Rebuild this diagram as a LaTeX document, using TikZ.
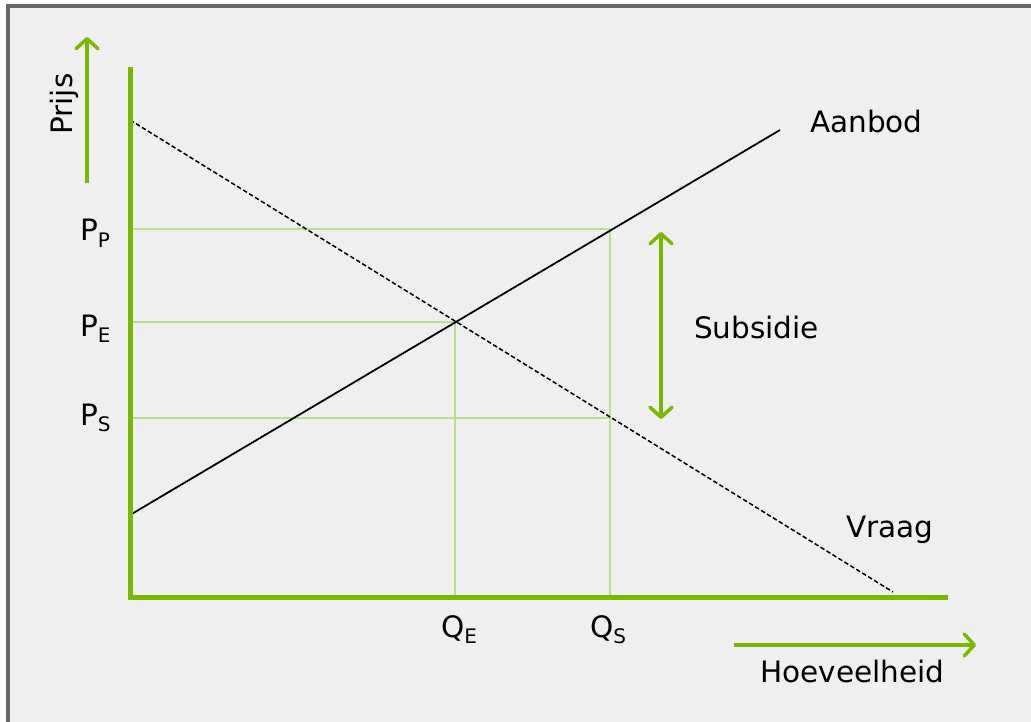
\documentclass[tikz,border=0pt]{standalone}
\usepackage{fontspec}
\setmainfont{DejaVu Sans}
\usetikzlibrary{arrows.meta}
\definecolor{axgreen}{HTML}{7AB800}
\definecolor{lgreen}{HTML}{B8DE8E}
\definecolor{bgcol}{HTML}{EFEFEF}
\definecolor{framecol}{HTML}{666666}
\newcommand\sbs[1]{\raisebox{-6.5pt}{\fontsize{20}{20}\selectfont #1}}
\begin{document}
\begin{tikzpicture}[x=1pt,y=-1pt,
  lbl/.style={font=\fontsize{29.5}{34}\selectfont, inner sep=0pt, anchor=base west},
  axisline/.style={axgreen, line width=5pt},
  guide/.style={lgreen, line width=1.6pt},
  barb/.tip={Straight Barb[length=10pt,width=22pt,line width=3.5pt,round]},
  garrow/.style={axgreen, line width=3.5pt, -barb},
  garrowboth/.style={axgreen, line width=3.5pt, barb-barb},
  supply/.style={black, line width=1.8pt},
  demand/.style={black, line width=1.5pt, dash pattern=on 4.5pt off 2.5pt}]
\useasboundingbox (0,0) rectangle (1031,722);
\fill[white] (0,0) rectangle (1031,722);
\fill[bgcol] (8,6) rectangle (1031,722);
\draw[framecol, line width=4pt] (8,722) -- (8,6) -- (1031,6);
% coordinates
\coordinate (ytop) at (130,67);
\coordinate (origin) at (130,597);
\coordinate (xend) at (948,597);
\coordinate (PPl) at (130,229);
\coordinate (PEl) at (130,322);
\coordinate (PSl) at (130,418);
\coordinate (E) at (455,322);
\coordinate (Sup) at (610,229);
\coordinate (Dem) at (610,418);
\coordinate (QE) at (455,597);
\coordinate (QS) at (610,597);
\coordinate (s0) at (130,515);
\coordinate (s1) at (780,130);
\coordinate (d0) at (130,120);
\coordinate (d1) at (893,592);
\coordinate (pa0) at (87,183);
\coordinate (pa1) at (87,37);
\coordinate (ha0) at (734,645);
\coordinate (ha1) at (976,645);
\coordinate (sa0) at (661,232);
\coordinate (sa1) at (661,419);
% guides
\draw[guide] (PPl) -- (Sup) -- (QS);
\draw[guide] (PEl) -- (E) -- (QE);
\draw[guide] (PSl) -- (Dem);
% curves
\draw[supply] (s0) -- (s1);
\draw[demand] (d0) -- (d1);
% axes
\draw[axisline] (ytop) -- (130,599.5);
\draw[axisline] (127.5,597) -- (xend);
% arrows
\draw[garrow] (pa0) -- (pa1);
\draw[garrow] (ha0) -- (ha1);
\draw[garrowboth] (sa0) -- (sa1);
% labels
\node[lbl] (lPP) at (80,241) {P\sbs{P}};
\node[lbl] (lPE) at (80,336) {P\sbs{E}};
\node[lbl] (lPS) at (80,425) {P\sbs{S}};
\node[lbl] (lQE) at (441,637) {Q\sbs{E}};
\node[lbl] (lQS) at (590,637) {Q\sbs{S}};
\node[lbl] (aanbod) at (810,133) {Aanbod};
\node[lbl] (vraag) at (846,537) {Vraag};
\node[lbl] (subs) at (694,338) {Subsidie};
\node[lbl] (hoev) at (760,682) {Hoeveelheid};
\node[lbl, rotate=90] (prijs) at (72,135) {Prijs};
\end{tikzpicture}
\end{document}
